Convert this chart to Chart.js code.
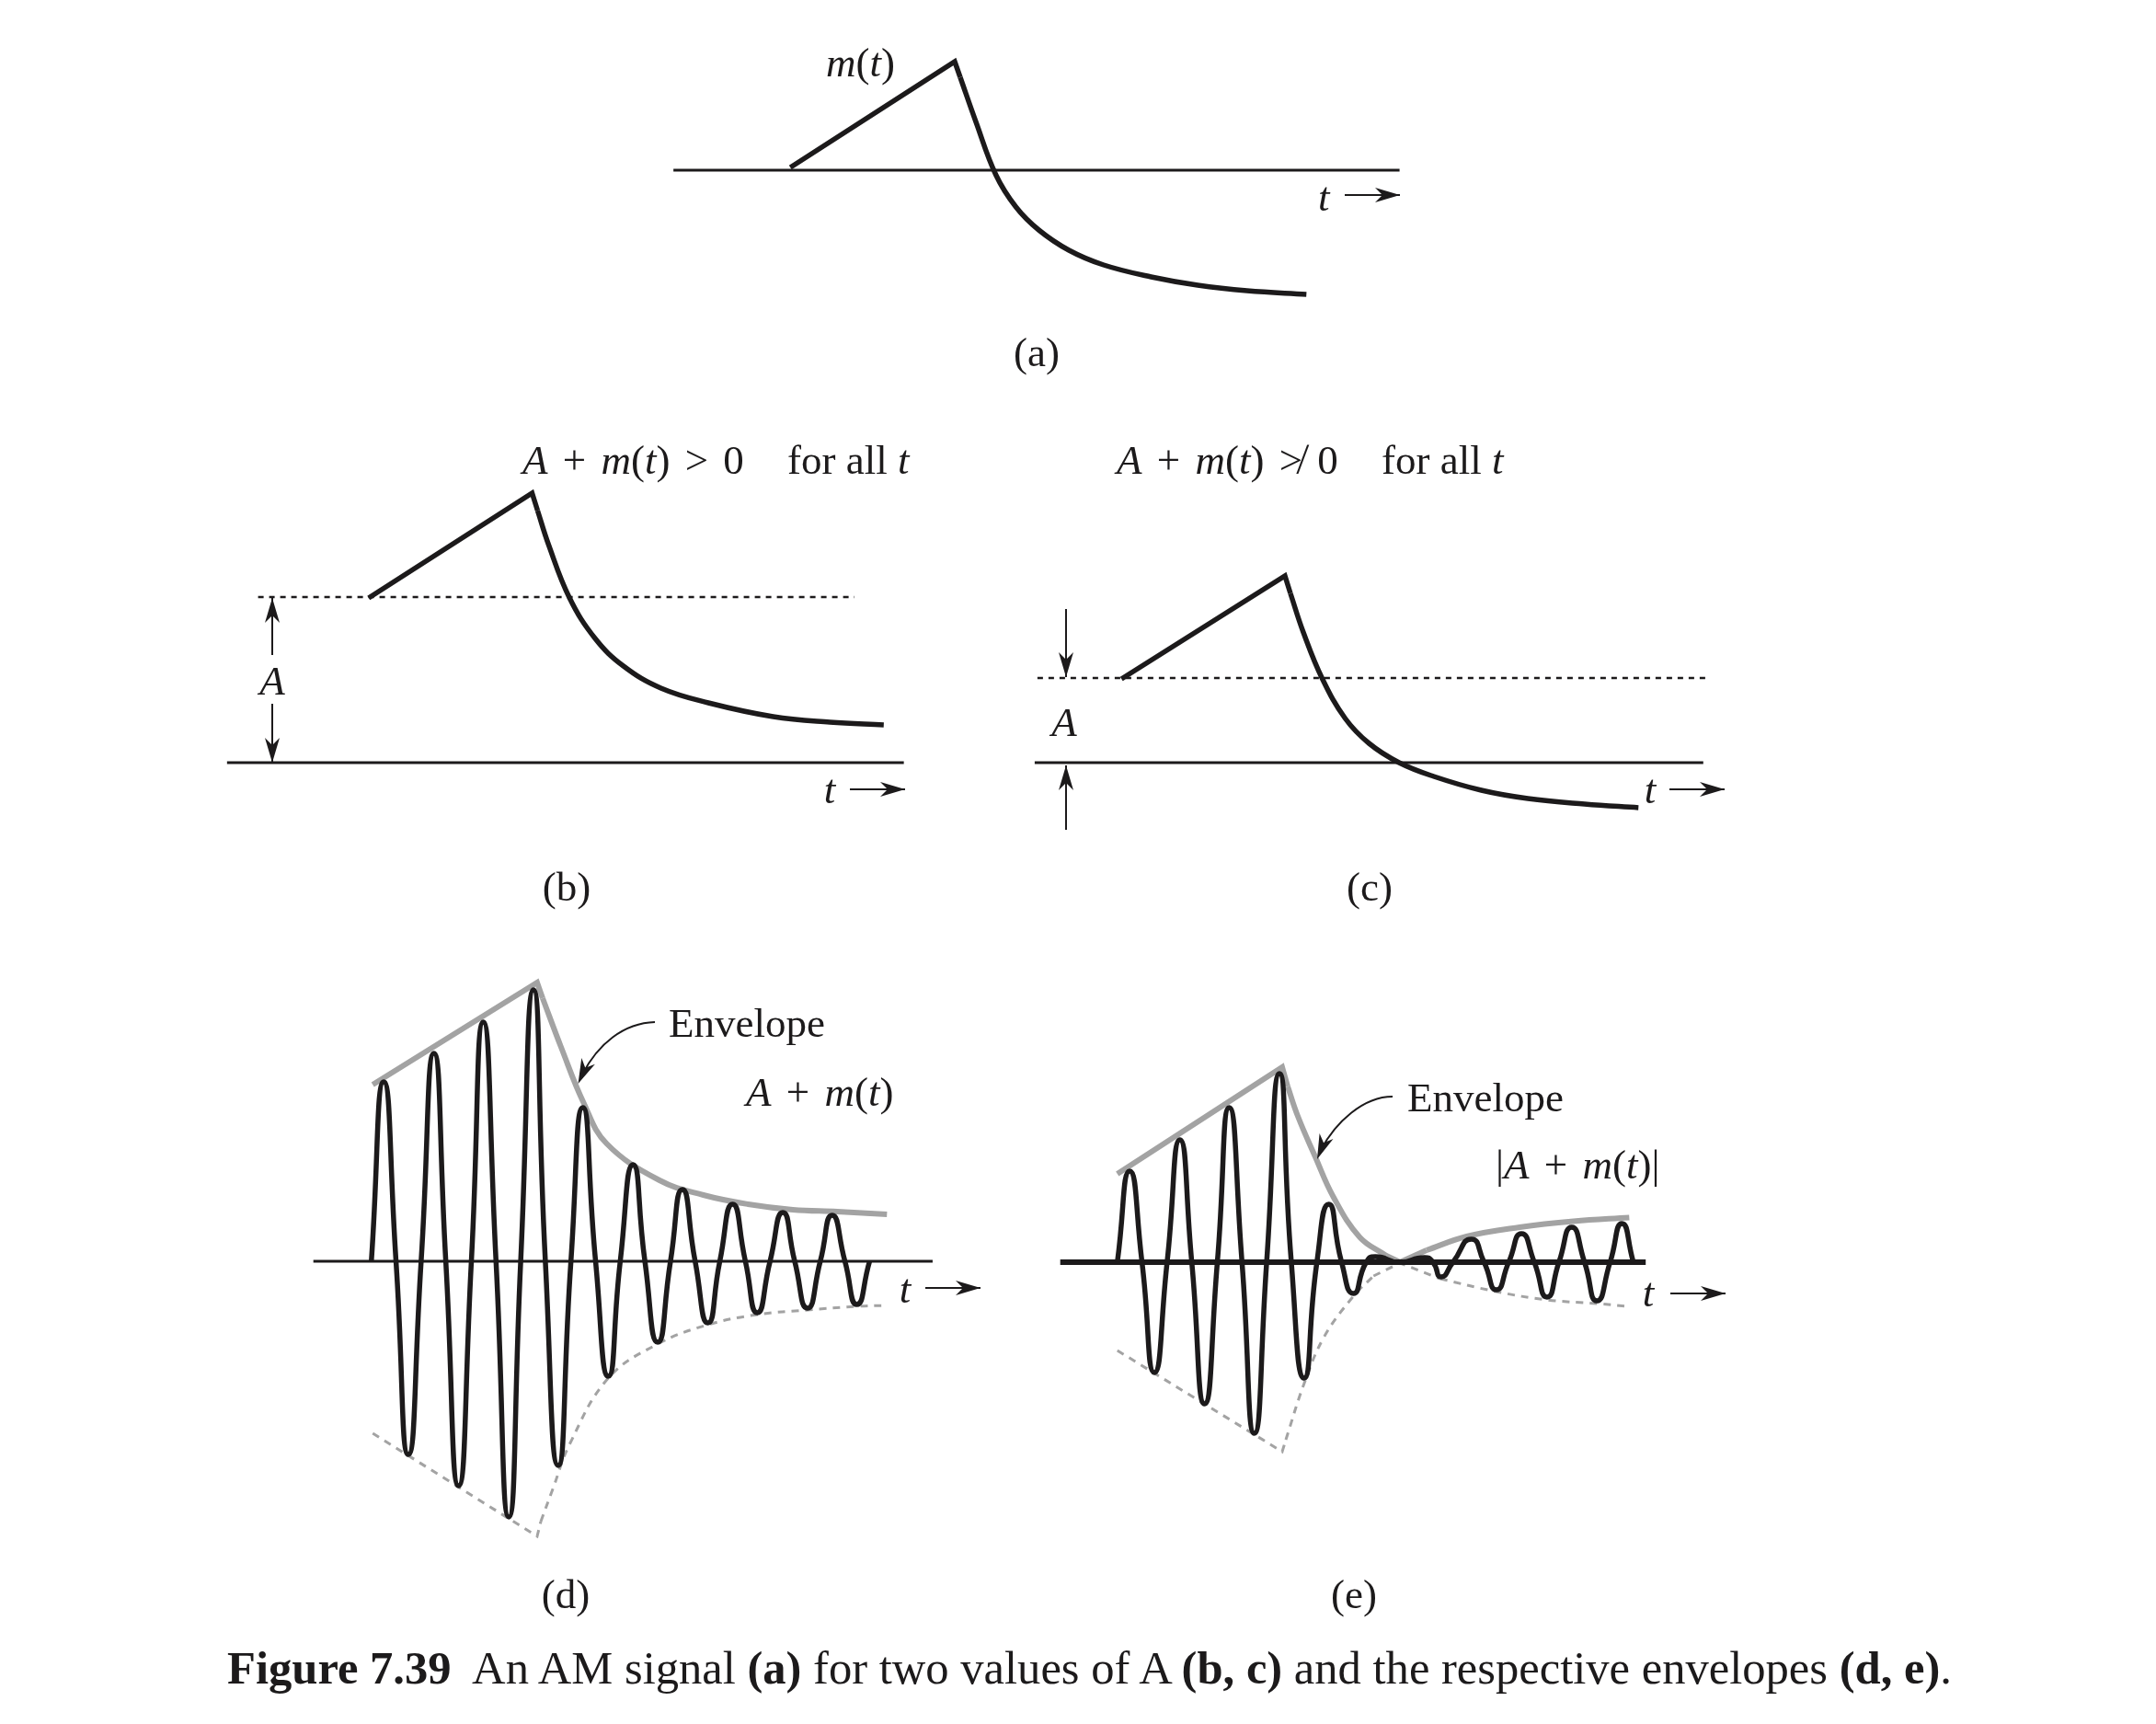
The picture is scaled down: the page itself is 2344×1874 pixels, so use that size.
<!DOCTYPE html>
<html>
<head>
<meta charset="utf-8">
<title>Figure 7.39</title>
<script src="https://cdn.jsdelivr.net/npm/chart.js@4/dist/chart.umd.min.js"></script>
<style>
  html, body { margin: 0; background: #fff; }
  #page { position: relative; width: 2344px; height: 1874px; overflow: hidden; }
  canvas { position: absolute; }
  svg { position: absolute; left: 0; top: 0; }
  text { font-family: "Liberation Serif", serif; font-size: 45px; fill: #1c1a1b; white-space: pre; }
  .i { font-style: italic; }
  .b { font-weight: bold; }
  .eq { word-spacing: 5px; }
  .cap { font-size: 50.6px; }
</style>
</head>
<body>
<div id="page">
  <canvas id="panelA"></canvas>
  <canvas id="panelB"></canvas>
  <canvas id="panelC"></canvas>
  <canvas id="panelD"></canvas>
  <canvas id="panelE"></canvas>
  <svg id="notes" width="2344" height="1874">
    <text x="898" y="83"><tspan class="i">m</tspan>(<tspan class="i">t</tspan>)</text>
    <text x="1433" y="229" class="i">t</text>
    <text x="1127" y="398" text-anchor="middle">(a)</text>

    <text x="568" y="515" class="eq"><tspan class="i">A</tspan> + <tspan class="i">m</tspan>(<tspan class="i">t</tspan>) &gt; 0</text>
    <text x="856" y="515">for all <tspan class="i">t</tspan></text>
    <text x="296" y="755" text-anchor="middle" class="i">A</text>
    <text x="902" y="873" class="i" text-anchor="middle">t</text>
    <text x="616" y="979" text-anchor="middle">(b)</text>

    <text x="1214" y="515" class="eq"><tspan class="i">A</tspan> + <tspan class="i">m</tspan>(<tspan class="i">t</tspan>) ≯ 0</text>
    <text x="1502" y="515">for all <tspan class="i">t</tspan></text>
    <text x="1157" y="800" text-anchor="middle" class="i">A</text>
    <text x="1794" y="873" class="i" text-anchor="middle">t</text>
    <text x="1489" y="979" text-anchor="middle">(c)</text>

    <text x="727" y="1127">Envelope</text>
    <text x="811" y="1202" class="eq"><tspan class="i">A</tspan> + <tspan class="i">m</tspan>(<tspan class="i">t</tspan>)</text>
    <text x="984" y="1416" class="i" text-anchor="middle">t</text>
    <text x="615" y="1748" text-anchor="middle">(d)</text>

    <text x="1530" y="1208">Envelope</text>
    <text x="1626" y="1281" class="eq">|<tspan class="i">A</tspan> + <tspan class="i">m</tspan>(<tspan class="i">t</tspan>)|</text>
    <text x="1792" y="1420" class="i" text-anchor="middle">t</text>
    <text x="1472" y="1748" text-anchor="middle">(e)</text>

    <text x="247" y="1830" class="cap"><tspan class="b">Figure 7.39</tspan>  An AM signal <tspan class="b">(a)</tspan> for two values of A <tspan class="b">(b, c)</tspan> and the respective envelopes <tspan class="b">(d, e)</tspan>.</text>
  </svg>
</div>

<script>
// m(t)
const tA = [-1.80, 0, 0.06, 0.23, 0.45, 0.67, 0.92, 1.25, 1.63, 2.15, 2.66, 3.20, 3.85];
const vA = [0.03, 1.18, 1.01, 0.53, -0.05, -0.40, -0.65, -0.87, -1.03, -1.16, -1.25, -1.31, -1.35];
const axisA = [-3.08, 4.87];

// A + m(t), A large enough
const tB = [-1.79, 0, 0.06, 0.18, 0.41, 0.69, 1.00, 1.41, 1.93, 2.64, 3.26, 3.85];
const vB = [1.79, 2.93, 2.74, 2.37, 1.79, 1.35, 1.05, 0.81, 0.65, 0.50, 0.44, 0.41];
const axisB = [-3.34, 4.07];
const levelB = [-3.00, 3.53];
const levelValueB = 1.80;

// A + m(t), A too small
const tC = [-1.79, 0, 0.06, 0.20, 0.41, 0.66, 0.92, 1.25, 1.63, 2.15, 2.66, 3.28, 3.87];
const vC = [0.91, 2.03, 1.84, 1.42, 0.91, 0.48, 0.21, 0, -0.15, -0.30, -0.39, -0.45, -0.49];
const axisC = [-2.74, 4.58];
const levelC = [-2.71, 4.65];
const levelValueC = 0.92;

// AM signal (d): zero crossings, crests and troughs
const tD = [-1.775, -1.64, -1.505, -1.37, -1.23, -1.09, -0.96, -0.82, -0.68, -0.55, -0.41, -0.27, -0.14, 0, 0.13,
  0.27, 0.41, 0.54, 0.68, 0.82, 0.95, 1.09, 1.22, 1.36, 1.50, 1.63, 1.77, 1.91, 2.04, 2.18, 2.32, 2.45, 2.59,
  2.73, 2.86, 3.00, 3.14, 3.27, 3.41, 3.54, 3.68];
const vD = [0, 1.95, 0, -2.10, 0, 2.26, 0, -2.44, 0, 2.60, 0, -2.78, 0, 2.95, 0,
  -2.22, 0, 1.67, 0, -1.25, 0, 1.05, 0, -0.88, 0, 0.78, 0, -0.67, 0, 0.62, 0, -0.56, 0,
  0.53, 0, -0.51, 0, 0.50, 0, -0.47, 0];
const axisD = [-2.41, 4.37];
const upperTD = [-1.76, 0.04, 0.10, 0.305, 0.55, 0.80, 1.38, 1.86, 2.35, 2.84, 3.325, 3.87];
const upperVD = [1.92, 3.03, 2.86, 2.32, 1.72, 1.28, 0.88, 0.72, 0.62, 0.56, 0.54, 0.51];
const lowerTD = [-1.76, 0.04, 0.08, 0.21, 0.40, 0.82, 1.36, 1.91, 2.45, 3.00, 3.54, 3.87];
const lowerVD = [-1.87, -2.99, -2.83, -2.48, -1.98, -1.27, -0.90, -0.69, -0.58, -0.53, -0.49, -0.48];

// AM signal (e)
const tE = [-1.805, -1.67, -1.535, -1.40, -1.26, -1.12, -0.99, -0.85, -0.71, -0.58, -0.44, -0.305, -0.17, -0.03, 0.10,
  0.24, 0.38, 0.51, 0.65, 0.78, 0.92, 1.02, 1.28, 1.56, 1.65, 1.74, 1.87, 2.07, 2.21, 2.345, 2.48, 2.62, 2.76,
  2.90, 3.03, 3.17, 3.31, 3.445, 3.59, 3.72, 3.845];
const vE = [0, 0.99, 0, -1.20, 0, 1.33, 0, -1.54, 0, 1.68, 0, -1.86, 0, 2.05, 0,
  -1.26, 0, 0.63, 0, -0.34, 0, 0.06, 0, 0.05, 0, -0.16, 0, 0.25, 0, -0.30, 0, 0.31, 0,
  -0.38, 0, 0.38, 0, -0.42, 0, 0.42, 0];
const axisE = [-2.43, 3.98];
const upperTE = [-1.805, 0, 0.06, 0.17, 0.36, 0.56, 0.85, 1.14, 1.29, 1.58, 2.02, 2.60, 3.19, 3.80];
const upperVE = [0.96, 2.12, 1.91, 1.59, 1.15, 0.71, 0.27, 0.07, 0, 0.13, 0.28, 0.38, 0.445, 0.485];
const lowerTE = [-1.805, 0, 0.04, 0.24, 0.46, 0.78, 1.00, 1.29, 1.73, 2.345, 2.90, 3.445, 3.77];
const lowerVE = [-0.96, -2.06, -1.93, -1.32, -0.81, -0.37, -0.15, -0.01, -0.18, -0.32, -0.41, -0.45, -0.48];

const BLACK = "#1c1a1b";
const GRAY = "#a3a3a3";
const PX_X = 99.3; // px per unit
const PX_Y = 100;

function points(t, v) {
  return t.map((x, i) => ({ x: x, y: v[i] }));
}

// a curve is smooth except at its corners, where the join has to stay sharp
function curve(t, v, corners, style) {
  const pts = points(t, v);
  const out = [];
  let start = 0;
  corners.forEach(c => {
    if (c - 1 > start) out.push(line(pts.slice(start, c), style, 0.4));
    out.push(line(pts.slice(c - 1, c + 2), style, 0));
    start = c + 1;
  });
  if (start < pts.length - 1) out.push(line(pts.slice(start), style, 0.4));
  return out;
}

function line(data, style, tension) {
  return Object.assign({
    data: data,
    borderColor: BLACK,
    borderWidth: 5.5,
    pointRadius: 0,
    fill: false,
    borderCapStyle: "butt",
    borderJoinStyle: "miter",
    tension: tension,
    clip: false
  }, style);
}

function flat(range, value, style) {
  return line(range.map(x => ({ x: x, y: value })), style, 0);
}

function panel(id, box, datasets) {
  const c = document.getElementById(id);
  c.width = box.w;
  c.height = box.h;
  c.style.left = box.left + "px";
  c.style.top = box.top + "px";
  c.style.width = box.w + "px";
  c.style.height = box.h + "px";
  new Chart(c, {
    type: "line",
    data: { datasets: datasets },
    options: {
      responsive: false,
      animation: false,
      devicePixelRatio: 1,
      layout: { padding: 0 },
      plugins: { legend: { display: false }, tooltip: { enabled: false } },
      scales: {
        x: { type: "linear", display: false, min: (box.left - box.x0) / PX_X, max: (box.left + box.w - box.x0) / PX_X },
        y: { type: "linear", display: false, max: (box.y0 - box.top) / PX_Y, min: (box.y0 - box.top - box.h) / PX_Y }
      }
    }
  });
}

const thin = { borderWidth: 3 };
const dotted = { borderWidth: 2.5, borderDash: [6, 6] };
const wave = { borderWidth: 5.5 };
const envelope = { borderColor: GRAY, borderWidth: 6 };
const envelopeDash = { borderColor: GRAY, borderWidth: 3, borderDash: [8, 7] };

panel("panelA", { left: 700, top: 40, w: 860, h: 320, x0: 1038, y0: 185 }, [
  ...curve(tA, vA, [1], {}),
  flat(axisA, 0, thin)
]);

panel("panelB", { left: 240, top: 520, w: 760, h: 330, x0: 578.5, y0: 829 }, [
  ...curve(tB, vB, [1], {}),
  flat(axisB, 0, thin),
  flat(levelB, levelValueB, dotted)
]);

panel("panelC", { left: 1110, top: 600, w: 760, h: 300, x0: 1397, y0: 829 }, [
  ...curve(tC, vC, [1], {}),
  flat(axisC, 0, thin),
  flat(levelC, levelValueC, dotted)
]);

panel("panelD", { left: 330, top: 1050, w: 760, h: 640, x0: 580, y0: 1371 }, [
  line(points(tD, vD), wave, 0.6),
  flat(axisD, 0, thin),
  ...curve(upperTD, upperVD, [1], envelope),
  ...curve(lowerTD, lowerVD, [1], envelopeDash)
]);

panel("panelE", { left: 1140, top: 1140, w: 760, h: 460, x0: 1394, y0: 1372 }, [
  line(points(tE, vE), wave, 0.6),
  flat(axisE, 0, { borderWidth: 6 }),
  ...curve(upperTE, upperVE, [1, 8], envelope),
  ...curve(lowerTE, lowerVE, [1, 7], envelopeDash)
]);

// arrows of the figure's notation, page pixels
const straightArrows = [
  [1462, 212, 1522, 212], [924, 858, 984, 858], [1815, 858, 1875, 858],
  [1006, 1400, 1066, 1400], [1816, 1406, 1876, 1406],
  [296, 712, 296, 650], [296, 765, 296, 829],
  [1159, 662, 1159, 736], [1159, 902, 1159, 832]
];
const curvedArrows = [
  "M712 1111 C678 1112 650 1135 633 1168",
  "M1514 1192 C1482 1192 1452 1220 1436 1250"
];
const curvedTips = [[633, 1168, 628.5, 1178], [1436, 1250, 1432, 1260]];

const NS = "http://www.w3.org/2000/svg";
const notes = document.getElementById("notes");

function add(name, attrs) {
  const el = document.createElementNS(NS, name);
  Object.keys(attrs).forEach(k => el.setAttribute(k, attrs[k]));
  notes.appendChild(el);
}

function head(x1, y1, x2, y2) {
  const a = Math.atan2(y2 - y1, x2 - x1);
  const at = (d, s) => (x2 - d * Math.cos(a) - s * Math.sin(a)) + "," + (y2 - d * Math.sin(a) + s * Math.cos(a));
  add("polygon", { points: [at(0, 0), at(27, 8), at(19, 0), at(27, -8)].join(" "), fill: BLACK });
}

straightArrows.forEach(a => {
  add("line", { x1: a[0], y1: a[1], x2: a[2], y2: a[3], stroke: BLACK, "stroke-width": 2 });
  head(a[0], a[1], a[2], a[3]);
});
curvedArrows.forEach((d, i) => {
  add("path", { d: d, fill: "none", stroke: BLACK, "stroke-width": 2 });
  head(...curvedTips[i]);
});
</script>
</body>
</html>
